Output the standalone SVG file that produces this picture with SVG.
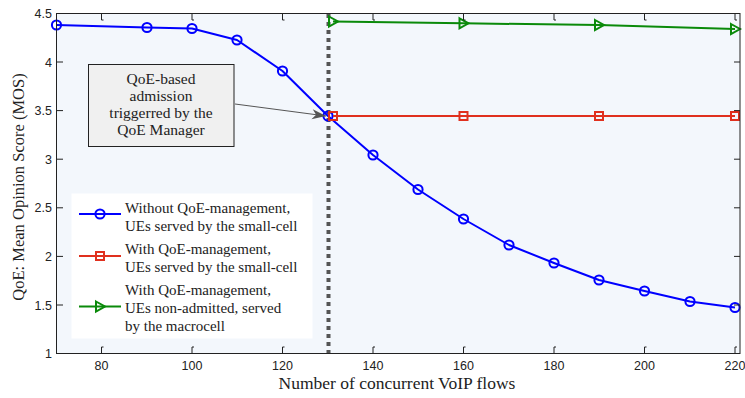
<svg xmlns="http://www.w3.org/2000/svg" width="745" height="398" viewBox="0 0 745 398">
<style>
.tick{fill:none;stroke:#222;stroke-width:1}
.tl{font-family:"Liberation Sans",Arial,sans-serif;font-size:12.5px;fill:#222}
.ser{font-family:"Liberation Serif","Times New Roman",serif;fill:#222}
.blue{fill:none;stroke:#0000ff;stroke-width:2;stroke-linejoin:round}
.red{fill:none;stroke:#e0301e;stroke-width:2}
.green{fill:none;stroke:#0a8a0a;stroke-width:2}
</style>
<defs>
<marker id="mc" markerUnits="userSpaceOnUse" markerWidth="14" markerHeight="14" refX="7" refY="7" overflow="visible"><circle cx="7" cy="7" r="4.6" fill="none" stroke="#0000ff" stroke-width="2"/></marker>
<marker id="ms" markerUnits="userSpaceOnUse" markerWidth="14" markerHeight="14" refX="7" refY="7" overflow="visible"><rect x="3" y="3" width="8" height="8" fill="none" stroke="#e0301e" stroke-width="2"/></marker>
<marker id="mt" markerUnits="userSpaceOnUse" markerWidth="14" markerHeight="14" refX="7" refY="7" overflow="visible"><path d="M3,2 L12,7 L3,12 Z" fill="none" stroke="#0a8a0a" stroke-width="2" stroke-linejoin="miter"/></marker>
<marker id="arr" markerUnits="userSpaceOnUse" markerWidth="16" markerHeight="12" refX="14" refY="5" orient="auto" overflow="visible"><path d="M0,0 L14,5 L0,10 L4,5 Z" fill="#555"/></marker>
</defs>
<rect width="745" height="398" fill="#ffffff"/>
<g id="plot-area">
<rect x="56.5" y="13.5" width="683.5" height="340" fill="#f3f7fc"/>
</g>
<g id="vline">
<line x1="328.5" y1="14" x2="328.5" y2="353" stroke="#555" stroke-width="4" stroke-dasharray="4 4"/>
</g>
<g id="series">
<polyline class="blue" points="56.5,25 147,27.5 192,28.5 237,40 282.5,71 328,116 373,155 418,189.5 463.5,219 509,245 554,263 599,280 644.5,291 690,301.5 735,307.5" marker-start="url(#mc)" marker-mid="url(#mc)" marker-end="url(#mc)"/>
<polyline class="red" points="333,116 463.5,116 599,116 735,116" marker-start="url(#ms)" marker-mid="url(#ms)" marker-end="url(#ms)"/>
<polyline class="green" points="333,21.5 463.5,23.3 599,25 735,29" marker-start="url(#mt)" marker-mid="url(#mt)" marker-end="url(#mt)"/>
</g>
<g id="axes">
<rect x="56.5" y="13.5" width="683.5" height="340" fill="none" stroke="#222" stroke-width="1"/>
<path class="tick" d="M101.5,353 V347 h2 M192,353 V347 h2 M282.5,353 V347 h2 M373,353 V347 h2 M463.5,353 V347 h2 M554,353 V347 h2 M644.5,353 V347 h2 M735,353 V347 h2
M101.5,14 V20 h2 M192,14 V20 h2 M282.5,14 V20 h2 M373,14 V20 h2 M463.5,14 V20 h2 M554,14 V20 h2 M644.5,14 V20 h2 M735,14 V20 h2
M57,62 H63 M57,110.6 H63 M57,159.2 H63 M57,207.8 H63 M57,256.4 H63 M57,305 H63
M740,62 H734 M740,110.6 H734 M740,159.2 H734 M740,207.8 H734 M740,256.4 H734 M740,305 H734"/>
<g class="tl" text-anchor="end">
<text x="52" y="18">4.5</text>
<text x="52" y="66.5">4</text>
<text x="52" y="115">3.5</text>
<text x="52" y="163.7">3</text>
<text x="52" y="212.3">2.5</text>
<text x="52" y="261">2</text>
<text x="52" y="309.5">1.5</text>
<text x="52" y="358">1</text>
</g>
<g class="tl" text-anchor="middle">
<text x="101.5" y="369.5">80</text>
<text x="192" y="369.5">100</text>
<text x="282.5" y="369.5">120</text>
<text x="373" y="369.5">140</text>
<text x="463.5" y="369.5">160</text>
<text x="554" y="369.5">180</text>
<text x="644.5" y="369.5">200</text>
<text x="735" y="369.5">220</text>
</g>
<text class="ser" x="397" y="389" font-size="17.5" text-anchor="middle">Number of concurrent VoIP flows</text>
<text class="ser" transform="translate(24,187) rotate(-90)" font-size="16.5" text-anchor="middle">QoE: Mean Opinion Score (MOS)</text>
</g>
<g id="annotation">
<rect x="88.5" y="64.5" width="145.5" height="82" fill="#f0f0f0" stroke="#222" stroke-width="1"/>
<g class="ser" font-size="15.5" text-anchor="middle">
<text x="161" y="83.5">QoE-based</text>
<text x="161" y="100.5">admission</text>
<text x="161" y="117.5">triggerred by the</text>
<text x="161" y="135">QoE Manager</text>
</g>
</g>
<g id="connectors">
<line x1="235" y1="104" x2="326" y2="116" stroke="#555" stroke-width="1" marker-end="url(#arr)"/>
</g>
<g id="legend">
<rect x="71.5" y="193.5" width="241" height="145" fill="#ffffff"/>
<line x1="79" y1="214" x2="121" y2="214" class="blue"/>
<circle cx="100" cy="214" r="4.6" fill="none" stroke="#0000ff" stroke-width="2"/>
<line x1="79" y1="256" x2="121" y2="256" class="red"/>
<rect x="96" y="252" width="8" height="8" fill="none" stroke="#e0301e" stroke-width="2"/>
<line x1="79" y1="306.5" x2="121" y2="306.5" class="green"/>
<path d="M96,301.5 L105,306.5 L96,311.5 Z" fill="none" stroke="#0a8a0a" stroke-width="2"/>
<g class="ser" font-size="15">
<text x="125" y="213">Without QoE-management,</text>
<text x="125" y="230.5">UEs served by the small-cell</text>
<text x="125" y="254">With QoE-management,</text>
<text x="125" y="271.5">UEs served by the small-cell</text>
<text x="125" y="295">With QoE-management,</text>
<text x="125" y="312.5">UEs non-admitted, served</text>
<text x="125" y="330.5">by the macrocell</text>
</g>
</g>
</svg>
